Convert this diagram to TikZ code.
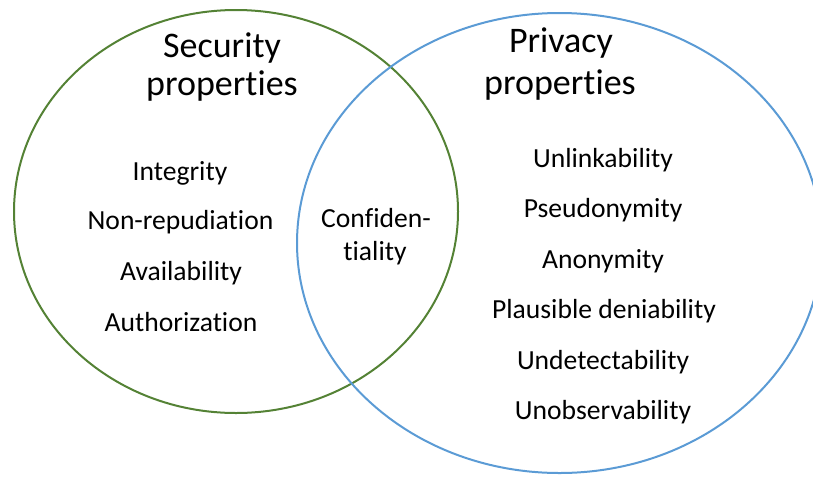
\documentclass[tikz,border=0pt]{standalone}
\usepackage{fontspec}
\setmainfont[Ligatures={NoCommon,NoDiscretionary,NoContextual}]{Carlito}
\definecolor{secgreen}{HTML}{548235}
\definecolor{privblue}{HTML}{5B9BD5}
\begin{document}
\begin{tikzpicture}[x=1pt,y=-1pt,
  title/.style={anchor=base,inner sep=0pt,font=\fontsize{36}{42}\selectfont},
  item/.style={anchor=base,inner sep=0pt,font=\fontsize{27.6}{33}\selectfont},
  setline/.style={line width=2pt}]
\useasboundingbox (0,0) rectangle (813,477);
\begin{scope}
\clip (0,0) rectangle (813,477);
\draw[setline,secgreen] (236,211.5) ellipse [x radius=222, y radius=201.5];
\draw[setline,privblue] (559.5,243) ellipse [x radius=262.5, y radius=230];
\end{scope}
% Security
\node[title] (sec1) at (222,57) {Security};
\node[title] (sec2) at (222,95) {properties};
\node[item] (integ) at (180,180) {Integrity};
\node[item] (nonrep) at (180.5,229) {Non-repudiation};
\node[item] (avail) at (181,280) {Availability};
\node[item] (auth) at (181,331) {Authorization};
% Intersection
\node[item] (conf1) at (376,227) {Confiden-};
\node[item] (conf2) at (375,260) {tiality};
% Privacy
\node[title] (priv1) at (561,52) {Privacy};
\node[title] (priv2) at (560,94) {properties};
\node[item] (unlink) at (603,167) {Unlinkability};
\node[item] (pseudo) at (603,217) {Pseudonymity};
\node[item] (anon) at (603,268) {Anonymity};
\node[item] (plaus) at (604,318) {Plausible deniability};
\node[item] (undet) at (603,369) {Undetectability};
\node[item] (unobs) at (603,419) {Unobservability};
\end{tikzpicture}
\end{document}
